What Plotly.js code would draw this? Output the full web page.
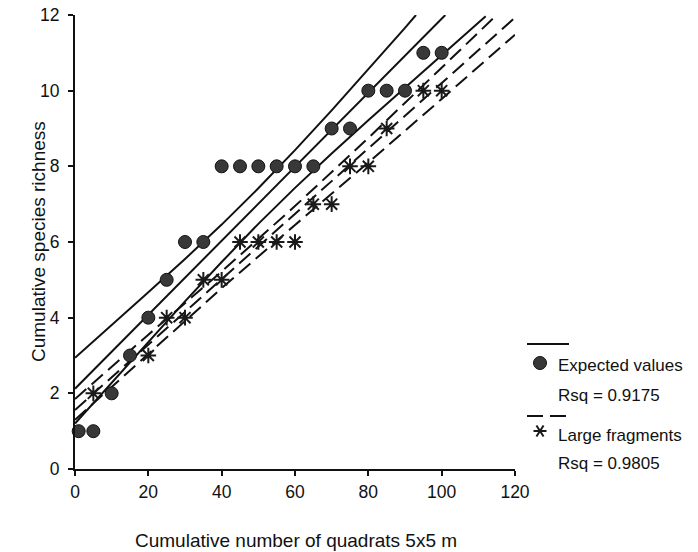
<!DOCTYPE html>
<html>
<head>
<meta charset="utf-8">
<script src="https://cdn.plot.ly/plotly-3.0.1.min.js"></script>
<style>
  html, body { margin: 0; padding: 0; background: #ffffff; }
  #chart { width: 698px; height: 552px; }
</style>
</head>
<body>
<div id="chart"></div>
<script>
// ---- Data ----
// Expected values (filled circles)
const expectedX = [1, 5, 10, 15, 20, 25, 30, 35, 40, 45, 50, 55, 60, 65, 70, 75, 80, 85, 90, 95, 100];
const expectedY = [1, 1, 2, 3, 4, 5, 6, 6, 8, 8, 8, 8, 8, 8, 9, 9, 10, 10, 10, 11, 11];

// Large fragments (asterisks)
const largeX = [5, 20, 25, 30, 35, 40, 45, 50, 55, 60, 65, 70, 75, 80, 85, 95, 100];
const largeY = [2, 3, 4, 4, 5, 5, 6, 6, 6, 6, 7, 7, 8, 8, 9, 10, 10];

// Fitted line and confidence band for Expected values (solid)
const expFitX = [0, 101];
const expFitY = [2.12, 12.0];
const expUpperX = [0, 10, 20, 30, 40, 50, 60, 70, 80, 90, 93];
const expUpperY = [2.94, 3.80, 4.67, 5.55, 6.46, 7.42, 8.43, 9.48, 10.56, 11.66, 12.0];
const expLowerX = [0, 10, 20, 30, 40, 50, 60, 70, 80, 90, 100, 110, 112];
const expLowerY = [1.2, 2.28, 3.36, 4.43, 5.47, 6.48, 7.43, 8.34, 9.22, 10.08, 10.93, 11.8, 11.97];

// Fitted line and confidence band for Large fragments (dashed)
const largeFitX = [0, 120];
const largeFitY = [1.56, 11.93];
const largeUpperX = [0, 20, 40, 60, 80, 100, 115];
const largeUpperY = [1.85, 3.55, 5.22, 6.95, 8.75, 10.6, 12.0];
const largeLowerX = [0, 20, 40, 60, 80, 100, 120];
const largeLowerY = [1.3, 3.05, 4.78, 6.45, 8.1, 9.78, 11.48];

// Tick values / labels
const xTicks = [0, 20, 40, 60, 80, 100, 120];
const yTicks = [0, 2, 4, 6, 8, 10, 12];

// Text
const xTitle = 'Cumulative number of quadrats 5x5 m';
const yTitle = 'Cumulative species richness';
const legendLabels = ['Expected values', 'Rsq = 0.9175', 'Large fragments', 'Rsq = 0.9805'];

// ---- Styles ----
const FONT = '"Liberation Sans", Arial, "DejaVu Sans", sans-serif';
const INK = '#111111';
const solid = {color: '#111111', width: 2};
const dashed = {color: '#111111', width: 2, dash: '15px,7px'};

function lineTrace(x, y, line) {
  return {x: x, y: y, type: 'scatter', mode: 'lines', line: line,
          hoverinfo: 'skip', showlegend: false, cliponaxis: true};
}

const traces = [
  lineTrace(expUpperX, expUpperY, solid),
  lineTrace(expFitX, expFitY, solid),
  lineTrace(expLowerX, expLowerY, solid),
  lineTrace(largeUpperX, largeUpperY, dashed),
  lineTrace(largeFitX, largeFitY, dashed),
  lineTrace(largeLowerX, largeLowerY, dashed),
  {
    x: expectedX, y: expectedY, type: 'scatter', mode: 'markers', name: legendLabels[0],
    marker: {symbol: 'circle', size: 13, color: '#383838', line: {color: '#111111', width: 1}},
    showlegend: false, cliponaxis: false
  },
  {
    x: largeX, y: largeY, type: 'scatter', mode: 'markers', name: legendLabels[2],
    marker: {symbol: 'asterisk-open', size: 13, color: '#1a1a1a', line: {color: '#1a1a1a', width: 2}},
    showlegend: false, cliponaxis: false
  }
];

// plot area: x 75..515 px, y 15..469 px
const L = 75, T = 15, W = 440, H = 454;
const px = v => (v - L) / W;          // pixel x -> paper x
const py = v => (T + H - v) / H;      // pixel y -> paper y

// custom legend (line samples + symbols)
const starCx = 540, starCy = 431, r = 6.5;
const starPath =
  'M ' + px(starCx - r) + ' ' + py(starCy) + ' L ' + px(starCx + r) + ' ' + py(starCy) +
  ' M ' + px(starCx - r * 0.55) + ' ' + py(starCy - r * 0.85) + ' L ' + px(starCx + r * 0.55) + ' ' + py(starCy + r * 0.85) +
  ' M ' + px(starCx + r * 0.55) + ' ' + py(starCy - r * 0.85) + ' L ' + px(starCx - r * 0.55) + ' ' + py(starCy + r * 0.85);

const shapes = [
  {type: 'line', xref: 'paper', yref: 'paper', x0: px(527), x1: px(569), y0: py(344), y1: py(344),
   line: {color: '#111111', width: 2}},
  {type: 'circle', xref: 'paper', yref: 'paper', x0: px(533.5), x1: px(546.5), y0: py(356.5), y1: py(369.5),
   fillcolor: '#383838', line: {color: '#111111', width: 1}},
  {type: 'line', xref: 'paper', yref: 'paper', x0: px(527), x1: px(569), y0: py(416), y1: py(416),
   line: {color: '#111111', width: 2, dash: '16px,7px'}},
  {type: 'path', xref: 'paper', yref: 'paper', path: starPath, line: {color: '#1a1a1a', width: 2}}
];

function legendText(text, yPix) {
  return {xref: 'paper', yref: 'paper', x: px(556), y: py(yPix), xanchor: 'left', yanchor: 'middle',
          text: text, showarrow: false, font: {family: FONT, size: 17, color: INK}};
}

const annotations = [
  legendText(legendLabels[0], 365),
  legendText(legendLabels[1], 395),
  legendText(legendLabels[2], 435),
  legendText(legendLabels[3], 463),
  {xref: 'paper', yref: 'paper', x: px(296), y: py(540), xanchor: 'center', yanchor: 'middle',
   text: xTitle, showarrow: false, font: {family: FONT, size: 19, color: INK}},
  {xref: 'paper', yref: 'paper', x: px(38), y: py(242), xanchor: 'center', yanchor: 'middle',
   text: yTitle, textangle: -90, showarrow: false, font: {family: FONT, size: 19, color: INK}}
];

const axisCommon = {
  showgrid: false, zeroline: false, showline: true, linecolor: '#111111', linewidth: 2,
  ticks: 'outside', ticklen: 5, tickwidth: 2, tickcolor: '#111111',
  tickfont: {family: FONT, size: 17.5, color: INK}, fixedrange: true
};

const layout = {
  width: 698, height: 552,
  margin: {l: L, r: 698 - L - W, t: T, b: 552 - T - H, pad: 0},
  paper_bgcolor: '#ffffff', plot_bgcolor: '#ffffff',
  showlegend: false,
  xaxis: Object.assign({}, axisCommon, {range: [0, 120], tickvals: xTicks, ticktext: xTicks.map(String), ticklabelstandoff: 1}),
  yaxis: Object.assign({}, axisCommon, {range: [0, 12], tickvals: yTicks, ticktext: yTicks.map(String), ticklabelstandoff: 5}),
  shapes: shapes,
  annotations: annotations
};

Plotly.newPlot('chart', traces, layout, {displayModeBar: false, staticPlot: true});
</script>
</body>
</html>
